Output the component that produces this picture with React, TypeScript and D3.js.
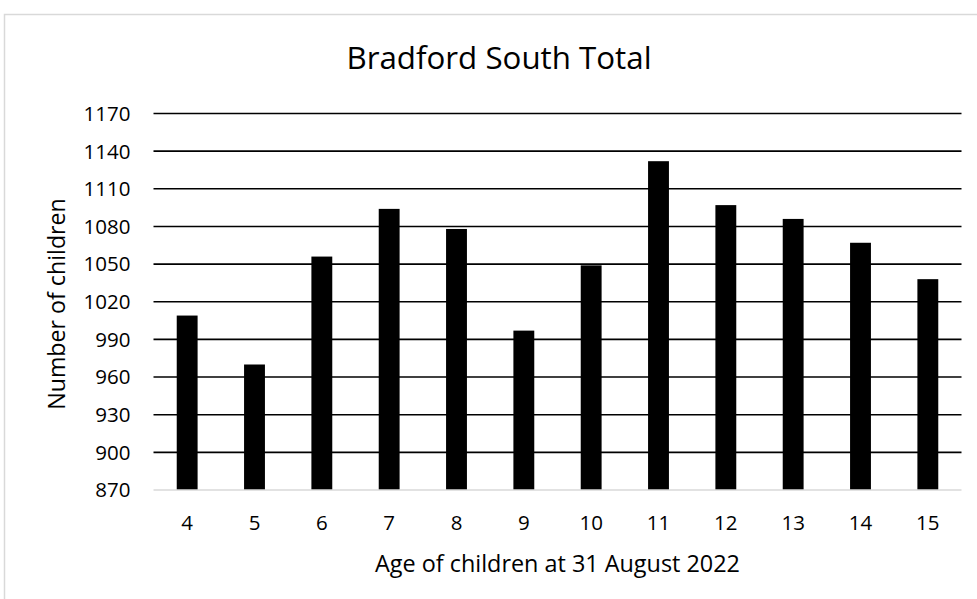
import React from 'react';
import * as d3 from 'd3';

const ages = ['4', '5', '6', '7', '8', '9', '10', '11', '12', '13', '14', '15'];
const children = [1009, 970, 1056, 1094, 1078, 997, 1049, 1132, 1097, 1086, 1067, 1038];
const yTicks = [870, 900, 930, 960, 990, 1020, 1050, 1080, 1110, 1140, 1170];

const width = 977;
const height = 599;
const margin = { top: 113.5, right: 15.5, bottom: 109, left: 153.5 };
const font = '"Open Sans", sans-serif';

export default function App() {
  const innerW = width - margin.left - margin.right;
  const innerH = height - margin.top - margin.bottom;

  const x = d3.scaleBand().domain(ages).range([0, innerW]).paddingInner(0.69).paddingOuter(0.345);
  const y = d3.scaleLinear().domain([870, 1170]).range([innerH, 0]);

  return (
    <svg width={width} height={height} style={{ position: 'absolute', left: 0, top: 0, background: '#fff' }}>
      {/* chart area border */}
      <rect x={4.5} y={14.5} width={1000} height={620} fill="#fff" stroke="#d9d9d9" strokeWidth={1.5} />

      <text x={499} y={69} textAnchor="middle" fontFamily={font} fontSize={31.3} fill="#000">
        Bradford South Total
      </text>

      <g transform={`translate(${margin.left},${margin.top})`}>
        {yTicks.map((t) => (
          <g key={t}>
            {t !== 870 && (
              <line x1={0} x2={innerW} y1={y(t)} y2={y(t)} stroke="#000" strokeWidth={1.6} />
            )}
            <text x={-23} y={y(t)} dy="0.36em" textAnchor="end" fontFamily={font} fontSize={20.5} fill="#000">
              {t}
            </text>
          </g>
        ))}

        {children.map((v, i) => (
          <rect
            key={ages[i]}
            x={x(ages[i])}
            y={y(v)}
            width={x.bandwidth()}
            height={innerH - y(v)}
            fill="#000"
          />
        ))}

        {/* category axis line */}
        <line x1={0} x2={innerW} y1={innerH} y2={innerH} stroke="#d9d9d9" strokeWidth={1.5} />

        {ages.map((a) => (
          <text
            key={a}
            x={(x(a) ?? 0) + x.bandwidth() / 2}
            y={innerH + 40}
            textAnchor="middle"
            fontFamily={font}
            fontSize={20.5}
            fill="#000"
          >
            {a}
          </text>
        ))}

        <text x={innerW / 2} y={innerH + 82} textAnchor="middle" fontFamily={font} fontSize={23.4} fill="#000">
          Age of children at 31 August 2022
        </text>

        <text
          transform={`translate(${65 - margin.left},${304 - margin.top}) rotate(-90)`}
          textAnchor="middle"
          fontFamily={font}
          fontSize={23.2}
          fill="#000"
        >
          Number of children
        </text>
      </g>
    </svg>
  );
}
